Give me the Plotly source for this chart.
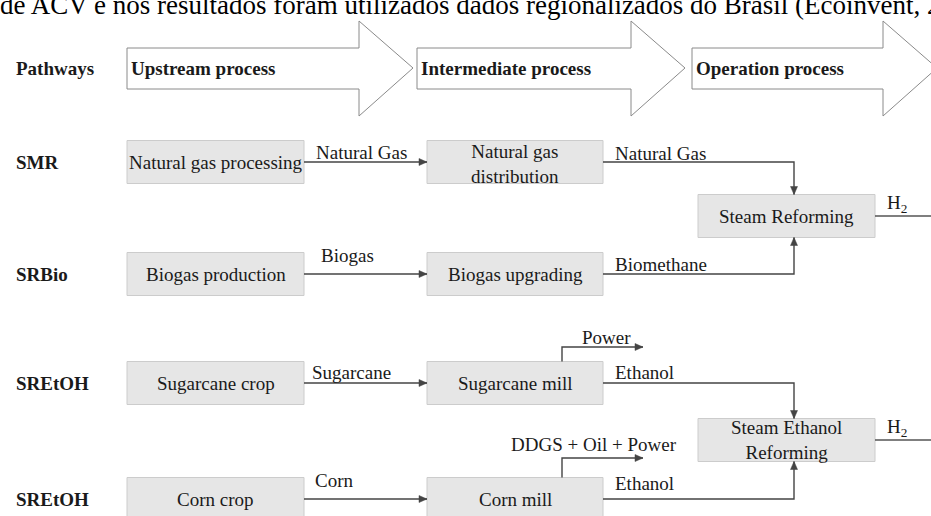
import plotly.graph_objects as go

# ---------------- data (texts of the diagram) ----------------
top_text = "de ACV e nos resultados foram utilizados dados regionalizados do Brasil (Ecoinvent, 2"
header_label = "Pathways"
stage_labels = ["Upstream process", "Intermediate process", "Operation process"]
pathways = ["SMR", "SRBio", "SREtOH", "SREtOH"]
upstream_nodes = ["Natural gas processing", "Biogas production", "Sugarcane crop", "Corn crop"]
intermediate_nodes = ["Natural gas<br>distribution", "Biogas upgrading", "Sugarcane mill", "Corn mill"]
flow_up_to_mid = ["Natural Gas", "Biogas", "Sugarcane", "Corn"]
flow_mid_to_op = ["Natural Gas", "Biomethane", "Ethanol", "Ethanol"]
coproducts = ["", "", "Power", "DDGS + Oil + Power"]
operation_nodes = ["Steam Reforming", "Steam Ethanol<br>Reforming"]
operation_of_row = [0, 0, 1, 1]
product = "H<sub>2</sub>"

# ---------------- layout geometry (pixels, y downward) ----------------
W, H = 931, 516
FONT = "Liberation Serif"
TXT = "#1a1a1a"
LINE = "#444444"
row_y = [162, 274, 383, 499]
box_h = 43
up_x = (127, 304)
mid_x = (427, 603)
op_x = (698, 875)
op_y = [216, 440]
stage_arrows = [(127, 359, 413), (417, 631, 685), (692, 883, 937)]
body_top, body_bot, head_top, head_bot, mid_arrow = 48, 89, 21, 116, 68
flow1_lbl = [(361, 152), (347, 255), (351, 372), (334, 480)]
flow2_lbl_x = 613
flow2_lbl_y = [153, 264, 372, 483]
trunk_x = 794
cop_x0, cop_x1 = 562, 643
cop_y = [None, None, 347, 458]
cop_lbl = [None, None, (606, 337), (594, 444)]

fig = go.Figure()
shapes = []
ann = []


def text(x, y, s, size=19, bold=False, xanchor="center", yanchor="middle", **kw):
    if bold:
        s = "<b>" + s + "</b>"
    ann.append(dict(x=x, y=y, xref="x", yref="y", text=s, showarrow=False,
                    xanchor=xanchor, yanchor=yanchor,
                    font=dict(family=FONT, size=size, color=TXT), **kw))


def box(x0, x1, yc, h=box_h):
    shapes.append(dict(type="rect", x0=x0, x1=x1, y0=yc - h / 2, y1=yc + h / 2,
                       xref="x", yref="y", fillcolor="#e6e6e6",
                       line=dict(color="#cccccc", width=1), layer="below"))


def polyline(pts, color=LINE, width=1.4):
    d = "M " + " L ".join(f"{x},{y}" for x, y in pts)
    shapes.append(dict(type="path", path=d, xref="x", yref="y",
                       line=dict(color=color, width=width)))


def head(x, y, direction, L=8, w=3.5):
    if direction == "right":
        pts = [(x, y), (x - L, y - w), (x - L, y + w)]
    elif direction == "down":
        pts = [(x, y), (x - w, y - L), (x + w, y - L)]
    else:  # up
        pts = [(x, y), (x - w, y + L), (x + w, y + L)]
    d = "M " + " L ".join(f"{a},{b}" for a, b in pts) + " Z"
    shapes.append(dict(type="path", path=d, xref="x", yref="y",
                       fillcolor=LINE, line=dict(color=LINE, width=0.5)))


# top (cropped) text line
ann.append(dict(x=0, y=5, xref="x", yref="y", text=top_text, showarrow=False,
                xanchor="left", yanchor="middle", xshift=-2,
                font=dict(family=FONT, size=27, color="#000000")))

# stage block arrows
for (x0, hs, tip), lbl in zip(stage_arrows, stage_labels):
    d = (f"M {x0},{body_top} L {hs},{body_top} L {hs},{head_top} L {tip},{mid_arrow} "
         f"L {hs},{head_bot} L {hs},{body_bot} L {x0},{body_bot} Z")
    shapes.append(dict(type="path", path=d, xref="x", yref="y", fillcolor="white",
                       line=dict(color="#8a8a8a", width=1)))
    text(x0 + 2, mid_arrow, lbl, bold=True, xanchor="left")

text(14, mid_arrow, header_label, bold=True, xanchor="left")

# rows
for i in range(4):
    yc = row_y[i]
    text(14, yc, pathways[i], bold=True, xanchor="left")
    box(*up_x, yc)
    text((up_x[0] + up_x[1]) / 2, yc, upstream_nodes[i])
    box(*mid_x, yc)
    text((mid_x[0] + mid_x[1]) / 2, yc + (2 if "<br>" in intermediate_nodes[i] else 0),
         intermediate_nodes[i])
    # upstream -> intermediate
    polyline([(up_x[1], yc), (mid_x[0], yc)])
    head(mid_x[0], yc, "right")
    text(flow1_lbl[i][0], flow1_lbl[i][1], flow_up_to_mid[i])
    # intermediate -> operation
    o = operation_of_row[i]
    top_side = yc < op_y[o]
    yend = op_y[o] - box_h / 2 if top_side else op_y[o] + box_h / 2
    polyline([(mid_x[1], yc), (trunk_x, yc), (trunk_x, yend)])
    head(trunk_x, yend, "down" if top_side else "up")
    text(flow2_lbl_x, flow2_lbl_y[i], flow_mid_to_op[i], xanchor="left")
    # co-products
    if coproducts[i]:
        ytop = yc - box_h / 2
        polyline([(cop_x0, ytop), (cop_x0, cop_y[i]), (cop_x1, cop_y[i])])
        head(cop_x1, cop_y[i], "right")
        text(cop_lbl[i][0], cop_lbl[i][1], coproducts[i])

# operation boxes and H2 outputs
for j, yc in enumerate(op_y):
    box(*op_x, yc)
    text((op_x[0] + op_x[1]) / 2, yc, operation_nodes[j])
    polyline([(op_x[1], yc), (W + 5, yc)], color="#555555", width=1.3)
    text(885, yc - 12, product, xanchor="left")

fig.update_layout(
    width=W, height=H,
    margin=dict(l=0, r=0, t=0, b=0),
    paper_bgcolor="white", plot_bgcolor="white",
    xaxis=dict(range=[0, W], visible=False, fixedrange=True),
    yaxis=dict(range=[H, 0], visible=False, fixedrange=True),
    shapes=shapes, annotations=ann, showlegend=False,
)
fig.write_html(
    "out.html",
    config={"displayModeBar": False},
    post_script="document.body.style.margin='0';document.body.style.overflow='hidden';",
)
